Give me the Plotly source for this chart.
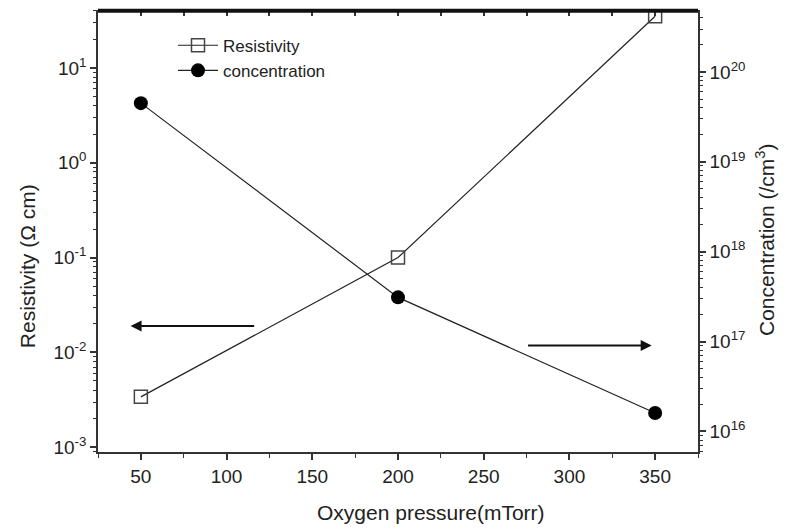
import plotly.graph_objects as go
import numpy as np

# ---- data ----
pressure = [50, 200, 350]                      # Oxygen pressure (mTorr)
resistivity = [3.4e-3, 0.1, 35.0]              # Ohm cm
concentration = [4.5e19, 3.1e17, 1.6e16]       # /cm^3

x_ticks = [50, 100, 150, 200, 250, 300, 350]
left_exps = [-3, -2, -1, 0, 1]
right_exps = [16, 17, 18, 19, 20]

x_title = "Oxygen pressure(mTorr)"
y_title = "Resistivity (Ω cm)"
y2_title = "Concentration (/cm<sup>3</sup>)"

FONT = "Liberation Sans, Arial, Helvetica, sans-serif"
LINE = "#222222"

def minor_vals(lo, hi):
    out = []
    for k in range(lo, hi):
        for m in range(2, 10):
            out.append(m * 10.0 ** k)
    return out

fig = go.Figure()
fig.add_trace(go.Scatter(
    x=pressure, y=resistivity, name="Resistivity", mode="lines+markers",
    line=dict(color=LINE, width=1.2),
    marker=dict(symbol="square-open", size=13, color="#444444", line=dict(width=1.5)),
    yaxis="y", xaxis="x"))
fig.add_trace(go.Scatter(
    x=pressure, y=concentration, name="concentration", mode="lines+markers",
    line=dict(color=LINE, width=1.2),
    marker=dict(symbol="circle", size=14, color="#000000"),
    yaxis="y2", xaxis="x"))
# invisible helper so the top axis with inward ticks is drawn
fig.add_trace(go.Scatter(
    x=pressure, y=resistivity, mode="markers",
    marker=dict(color="rgba(0,0,0,0)", size=1),
    showlegend=False, hoverinfo="skip", xaxis="x2", yaxis="y"))

axis_font = dict(family=FONT, size=19, color="#222")
title_font = dict(family=FONT, size=21, color="#222")

fig.update_layout(
    width=789, height=531,
    margin=dict(l=98, r=91, t=10, b=79),
    plot_bgcolor="white", paper_bgcolor="white",
    font=dict(family=FONT, color="#222"),
    showlegend=True,
    legend=dict(x=0.125, y=0.96, xanchor="left", yanchor="top",
                bgcolor="rgba(0,0,0,0)", font=dict(family=FONT, size=17, color="#222"),
                itemwidth=40, tracegroupgap=0),
    xaxis=dict(range=[25, 375], tickvals=x_ticks, ticks="outside", ticklen=6,
               tickwidth=1.5, tickcolor="#333", showline=True, linewidth=1.5,
               linecolor="#333", showgrid=False, zeroline=False,
               tickfont=axis_font,
               minor=dict(dtick=25, tick0=25, ticks="outside", ticklen=4, tickcolor="#333", tickwidth=1.2, showgrid=False)),
    xaxis2=dict(range=[25, 375], overlaying="x", side="top", anchor="y",
                dtick=25, tick0=25, ticks="inside", ticklen=6, tickwidth=1.5,
                tickcolor="#333", showticklabels=False, showline=False,
                showgrid=False, zeroline=False),
    yaxis=dict(type="log", range=[-3.05, 1.61],
               tickvals=[10.0 ** e for e in left_exps],
               ticktext=[f"10<sup>{e}</sup>" for e in left_exps],
               ticks="outside", ticklen=6, tickwidth=1.5, tickcolor="#333",
               showline=True, linewidth=1.5, linecolor="#333", showgrid=False,
               zeroline=False, tickfont=axis_font,
               minor=dict(tickvals=minor_vals(-4, 2), ticks="outside", ticklen=3,
                          tickcolor="#333", tickwidth=1, showgrid=False)),
    yaxis2=dict(type="log", range=[15.77, 20.69], overlaying="y", side="right",
                anchor="x",
                tickvals=[10.0 ** e for e in right_exps],
                ticktext=[f"10<sup>{e}</sup>" for e in right_exps],
                ticks="outside", ticklen=6, tickwidth=1.5, tickcolor="#333",
                showline=True, linewidth=1.5, linecolor="#333", showgrid=False,
                zeroline=False, tickfont=axis_font,
                minor=dict(tickvals=minor_vals(15, 21), ticks="outside", ticklen=3,
                           tickcolor="#333", tickwidth=1, showgrid=False)),
)

# thick top frame bar
fig.add_shape(type="rect", xref="paper", yref="paper", x0=0, x1=1, y0=0.994, y1=1.003,
              line=dict(width=0), fillcolor="#111", layer="above")

# axis titles as annotations (Origin-style placement)
fig.add_annotation(text=x_title, x=219, xref="x", y=-0.138, yref="paper",
                   showarrow=False, font=title_font, xanchor="center", yanchor="middle")
fig.add_annotation(text=y_title, x=-0.117, xref="paper", y=0.42, yref="paper",
                   showarrow=False, font=title_font, textangle=-90,
                   xanchor="center", yanchor="middle")
fig.add_annotation(text=y2_title, x=1.112, xref="paper", y=0.48, yref="paper",
                   showarrow=False, font=title_font, textangle=-90,
                   xanchor="center", yanchor="middle")

# direction arrows (in data coordinates of the left axis)
arrow_left = dict(tail=117, head=44, y=np.log10(0.019))
arrow_right = dict(tail=275, head=348, y=np.log10(0.0118))
for a in (arrow_left, arrow_right):
    fig.add_annotation(x=a["head"], y=a["y"], ax=a["tail"], ay=a["y"],
                       xref="x", yref="y", axref="x", ayref="y",
                       showarrow=True, arrowhead=2, arrowsize=1.1, arrowwidth=2,
                       arrowcolor="#111", text="")

fig.write_html("out.html")
